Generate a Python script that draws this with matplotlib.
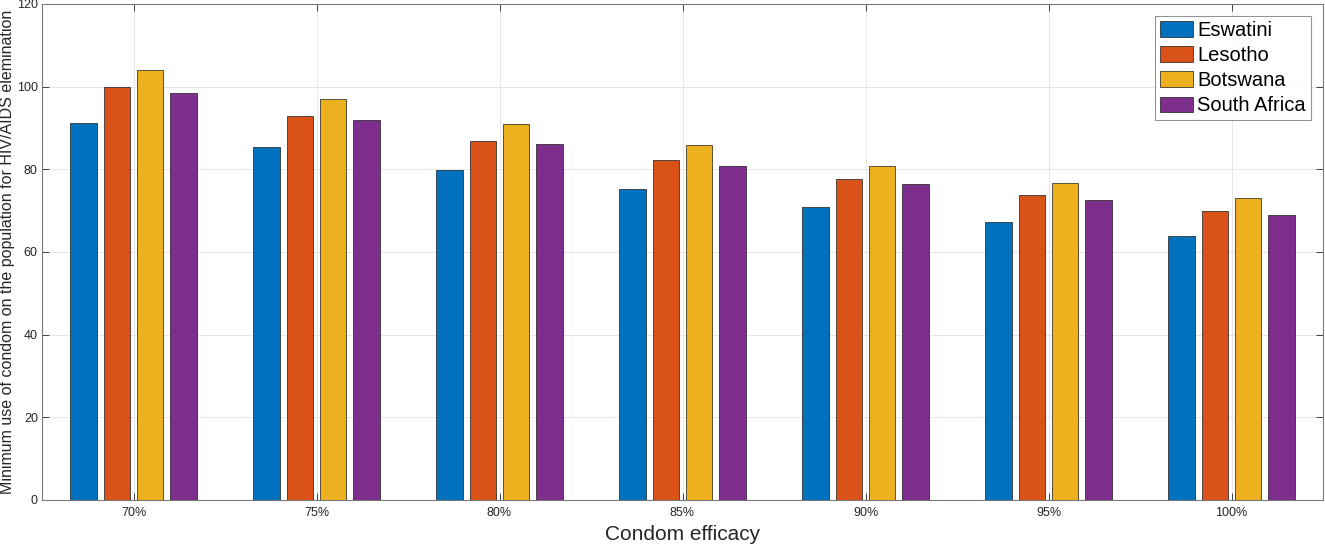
import numpy as np
import matplotlib.pyplot as plt
import matplotlib

matplotlib.rcParams['font.family'] = ['Liberation Sans', 'DejaVu Sans']

# ── data ─────────────────────────────────────────
efficacy = ['70%', '75%', '80%', '85%', '90%', '95%', '100%']
countries = ['Eswatini', 'Lesotho', 'Botswana', 'South Africa']
eswatini = [91.3, 85.3, 79.9, 75.2, 70.9, 67.2, 63.8]
lesotho = [100.0, 92.9, 86.9, 82.3, 77.7, 73.7, 70.0]
botswana = [104.0, 96.9, 91.0, 85.8, 80.9, 76.7, 73.0]
south_africa = [98.4, 92.0, 86.2, 80.9, 76.5, 72.6, 68.9]

series = [eswatini, lesotho, botswana, south_africa]
colors = ['#0072BD', '#D95319', '#EDB120', '#7E2F8E']

# ── plot ─────────────────────────────────────────
fig = plt.figure(figsize=(13.25, 5.45), dpi=100)
ax = fig.add_axes([42 / 1325, 45 / 545, 1281 / 1325, 496 / 545])

x = np.arange(1, len(efficacy) + 1)
n = len(series)
group_w = n / (n + 1.5)
pitch = group_w / n
for i, (vals, c, name) in enumerate(zip(series, colors, countries)):
    off = (i - (n - 1) / 2) * pitch
    ax.bar(x + off, vals, width=pitch * 0.8, color=c, edgecolor='#1a1a1a',
           linewidth=0.5, label=name, zorder=3)

ax.set_xlim(0.5, 7.5)
ax.set_ylim(0, 120)
ax.set_yticks(np.arange(0, 121, 20))
ax.set_xticks(x)
ax.set_xticklabels(efficacy)
ax.tick_params(direction='in', length=5, width=0.6, colors='#262626',
               labelsize=9, top=True, right=True)
ax.tick_params(axis='x', pad=5)
ax.tick_params(axis='y', pad=3)
for s in ax.spines.values():
    s.set_color('#7a7a7a')
    s.set_linewidth(0.8)
ax.grid(True, color='#e3e3e3', linewidth=0.6, zorder=0)
ax.set_axisbelow(True)

ax.set_xlabel('Condom efficacy', fontsize=15, color='#262626', labelpad=4)
ax.set_ylabel('Minimum use of condom on the population for HIV/AIDS elemination',
              fontsize=11.5, color='#262626', labelpad=1)

leg = ax.legend(loc='upper right', fontsize=14.5, frameon=True, fancybox=False,
                edgecolor='#7a7a7a', handlelength=1.65, handleheight=0.8,
                handletextpad=0.2, labelspacing=0.3, borderpad=0.25,
                borderaxespad=0.6)
leg.get_frame().set_linewidth(0.8)

plt.savefig('out.png', dpi=100)
